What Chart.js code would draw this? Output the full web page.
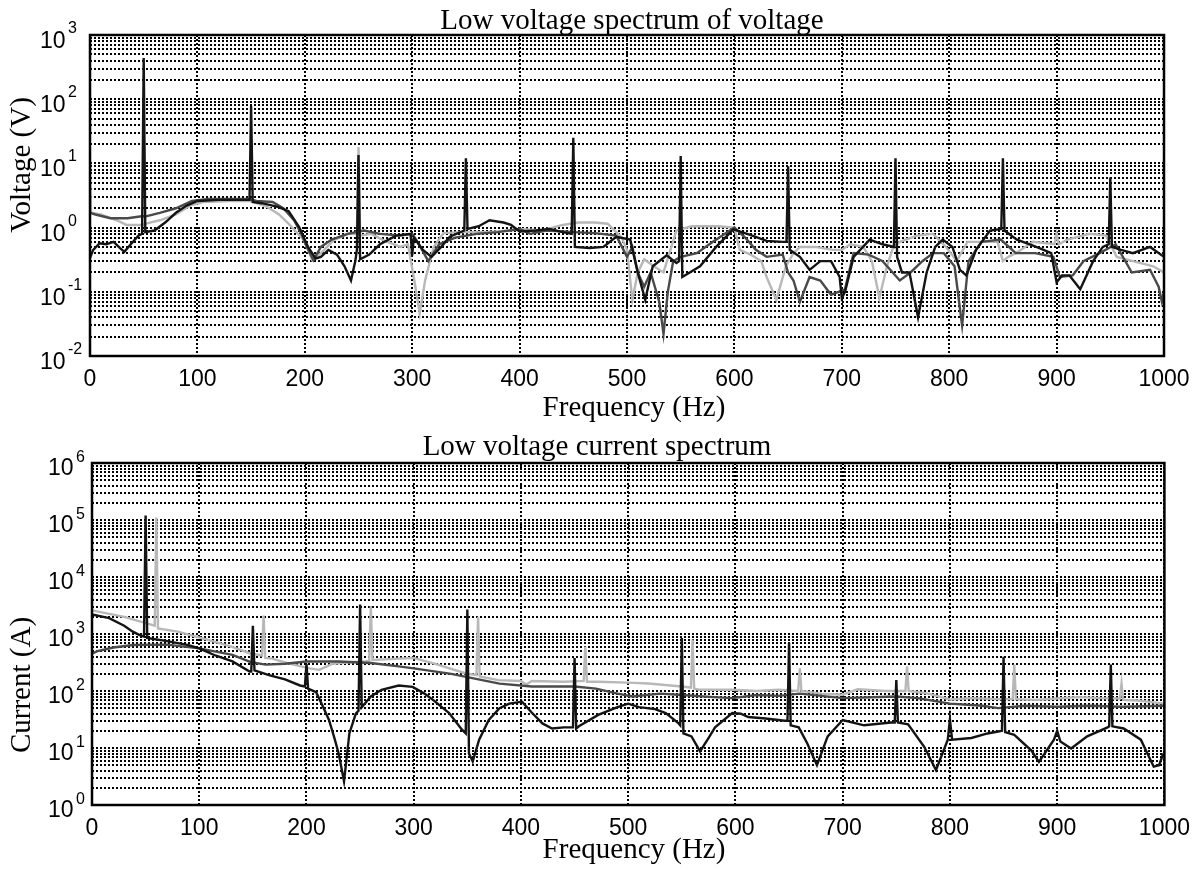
<!DOCTYPE html>
<html><head><meta charset="utf-8">
<script src="https://cdn.jsdelivr.net/npm/chart.js"></script>
<style>
html,body{margin:0;padding:0;background:#fff;}
#wrap{position:relative;width:1200px;height:870px;background:#fff;}
canvas{position:absolute;left:0;}
</style></head><body>
<div id="wrap">
<canvas id="c1" width="1200" height="435" style="top:0;width:1200px;height:435px"></canvas>
<canvas id="c2" width="1200" height="435" style="top:435px;width:1200px;height:435px"></canvas>
</div>
<script>
// ---------- Tick labels ----------
const xTickStep = 100;
const topExps = [-2, -1, 0, 1, 2, 3];
const botExps = [0, 1, 2, 3, 4, 5, 6];

// ---------- Top chart: voltage spectrum ----------
const vBlackF = [0,3,9,15,22,28,32,38,45,48.5,50,51.5,60,70,80,90,100,120,140,148.5,150,151.5,160,175,185,195,203,210,215,222,230,237,243,247,248.5,250,251.5,260,270,285,298.5,300,301.5,310,318,327,335,348.5,350,351.5,362,372,385,392,400,415,428,440,448.5,450,451.5,465,478,490,503,510,517,524,537,546,548.5,550,551.5,568,583,599,614,630,645,648.5,650,651.5,661,670,680,690,698,700,703,711,726,738,748.5,750,751.5,756,763,771,779,787,794,803,810,816,825,838,848.5,850,851.5,863,875,884,895,900,905,912,922,934,943,948.5,950,951.5,960,971,987,1000];
const vBlack  = [0.34,0.45,0.57,0.55,0.6,0.48,0.42,0.55,0.75,0.8,440,0.85,0.9,1.2,1.7,2.2,2.6,2.7,2.7,2.7,78,2.5,2.4,2.1,1.8,1.0,0.5,0.33,0.35,0.45,0.38,0.25,0.15,0.3,0.45,13.5,0.32,0.38,0.55,0.75,0.8,0.37,0.7,0.45,0.35,0.5,0.72,0.9,12,0.95,1.05,1.3,1.2,1.1,0.87,0.9,0.95,0.85,0.8,25,0.5,0.48,0.5,0.72,0.65,0.2,0.075,0.25,0.37,0.28,0.3,13,0.17,0.25,0.5,0.94,0.78,0.62,0.6,0.6,9,0.45,0.35,0.22,0.3,0.3,0.17,0.08,0.1,0.35,0.65,0.55,0.5,12,0.35,0.2,0.2,0.04,0.2,0.5,0.65,0.5,0.22,0.18,0.45,0.9,0.95,12,0.9,0.65,0.55,0.48,0.4,0.14,0.18,0.18,0.11,0.3,0.5,0.55,6,0.5,0.45,0.4,0.5,0.35];

const vDarkF = [0,5,19,35,48,52,65,80,95,110,130,148,155,170,180,190,196,202,208,215,225,240,255,270,289,300,305,315,325,340,360,380,400,410,425,450,470,490,500,505,510,516,522,530,534,538,543,550,565,580,600,610,620,630,645,650,655,661,670,680,690,697,703,711,725,738,754,764,775,785,795,805,812,818,830,848,862,880,897,903,915,925,940,955,970,987,995,998,1000];
const vDark  = [1.7,1.6,1.4,1.4,1.5,1.5,1.7,2.0,2.6,2.8,2.8,2.8,2.6,2.5,2.0,1.3,0.85,0.5,0.31,0.5,0.65,0.8,0.9,0.8,0.75,0.8,0.6,0.3,0.55,0.7,0.8,0.85,0.95,0.8,0.9,0.85,0.82,0.75,0.35,0.5,0.2,0.12,0.2,0.07,0.022,0.1,0.3,0.35,0.4,0.6,1.0,0.7,0.45,0.35,0.38,0.2,0.15,0.07,0.17,0.15,0.09,0.1,0.11,0.4,0.38,0.3,0.15,0.2,0.3,0.4,0.4,0.25,0.03,0.3,0.6,0.65,0.4,0.4,0.35,0.17,0.18,0.3,0.4,0.55,0.2,0.22,0.12,0.07,0.1];

const vLightF = [0,1,10,25,34,49,52,65,80,93,105,130,148,155,165,176,186,199,207,215,227,240,248.5,250,251.5,262,273,289,296,302,307,312,320,329,345,370,390,400,420,440,455,470,482,495,500,505,510,516,525,534,546,560,585,600,605,615,625,630,639,648,655,661,675,692,700,708,720,728,735,742,748,754,770,785,797,807,817,835,845,850,855,862,878,898,900,902,910,931,946,956,971,990,1000];
const vLight  = [5,1.7,1.6,1.3,1.1,1.1,1.15,1.3,1.6,2.2,2.5,2.6,2.6,2.4,2.1,1.6,1.1,0.64,0.31,0.4,0.64,0.8,0.8,18,0.75,0.8,0.64,0.5,0.55,0.15,0.046,0.15,0.5,0.82,0.85,0.85,0.9,0.95,0.9,1.1,1.2,1.2,1.15,0.7,0.45,0.075,0.2,0.32,0.25,0.2,0.9,1.05,1.05,1.0,0.45,0.38,0.3,0.17,0.075,0.25,0.4,0.5,0.5,0.45,0.45,0.55,0.5,0.3,0.08,0.25,0.5,0.6,0.75,0.8,0.5,0.3,0.6,0.6,0.6,0.3,0.35,0.4,0.6,0.55,0.8,0.55,0.65,0.8,0.75,0.35,0.3,0.25,0.2];

// ---------- Bottom chart: current spectrum ----------
const iBlackF = [0,16,30,38,45,48.5,50,51.5,70,90,100,115,131,147,148.5,150,151.5,165,180,194,198.5,200,201.5,209,215,221,226,230,235,240,246,248.5,250,251.5,260,270,286,299,310,318,333,345,348.5,350,351.5,355,361,370,380,389,401,410,420,429,440,448.5,450,451.5,454,472,490,500,510,525,535,547,548.5,550,551.5,559,567,575,581,597,605,612,628,646,648.5,650,651.5,659,667,676,686,700,720,745,748.5,750,751.5,761,776,787,798,800,802,820,835,845,848.5,850,851.5,860,876,883,897,900,903,913,928,947,948.5,950,951.5,962,978,990,995,999];
const iBlack  = [2200,1900,1400,1100,950,900,120000,850,750,640,560,420,330,220,220,1400,230,190,160,125,120,300,110,95,55,31,15,8,2.6,18,40,45,3300,52,80,105,125,118,90,70,41,21,18,2700,8,5.8,14,31,50,60,65,42,27,22,23,23,380,22,24,38,52,60,52,48,41,27,25,850,18,16,8.7,15,23,41,40,35,33,30,30,700,25,23,12,5,16,31,25,28,28,155,28,26,10.5,4.1,14,32,14,15,18,19.5,20,400,19,17,9,5.7,14,20,13,9.8,16,23,24,290,24,22,14,4.7,5,8];

const iDarkF = [0,5,20,38,70,100,131,148,162,180,200,230,260,286,300,335,380,410,450,470,490,504,530,550,580,597,620,640,660,700,750,770,800,830,845,870,900,930,960,1000];
const iDark  = [450,500,580,640,650,560,430,320,290,300,330,330,310,270,250,200,135,120,120,110,90,80,90,85,78,75,85,82,90,75,80,75,60,55,50,55,53,55,53,55];

const iLightF = [0,30,58.5,60,61.5,80,109,130,147,158.5,160,161.5,168,185,203,212,224,240,255,258.5,260,261.5,286,300,320,348,358.5,360,361.5,379,400,405,410,440,458.5,460,461.5,472,500,519,550,558.5,560,561.5,566,597,620,640,658.5,660,661.5,680,700,714,740,758.5,760,761.5,780,800,820,845,858.5,860,861.5,880,900,920,940,958.5,960,961.5,975,1000,1010];
const iLight  = [2600,2000,1400,110000,1250,1100,780,600,460,420,2100,380,370,300,250,235,300,320,330,340,3100,350,370,380,300,205,190,2000,180,155,150,130,150,145,150,600,145,145,140,135,120,115,800,110,105,105,100,105,100,250,100,90,86,107,100,100,270,100,90,71,75,72,72,290,72,70,74,78,75,74,135,70,68,60,72];

const COL_BLACK = '#141414', COL_DARK = '#4a4a4a', COL_LIGHT = '#b8b8b8';

function pts(f, v) { return f.map((x, i) => ({ x: x, y: v[i] })); }
function logGrid(exps) {
  const lo = exps[0], hi = exps[exps.length - 1], t = [];
  for (let e = lo; e < hi; e++) for (let m = 1; m < 10; m++) t.push(+(m * Math.pow(10, e)).toPrecision(6));
  t.push(Math.pow(10, hi));
  return t;
}

const annot = {
  id: 'annot',
  afterDraw(chart, args, o) {
    const ctx = chart.ctx, ys = chart.scales.y, a = chart.chartArea;
    ctx.save();
    ctx.setLineDash([]);
    ctx.strokeStyle = '#000'; ctx.lineWidth = 2.5;
    ctx.strokeRect(a.left, a.top, a.right - a.left, a.bottom - a.top);
    ctx.fillStyle = '#000';
    ctx.textAlign = 'left'; ctx.textBaseline = 'alphabetic';
    o.exps.forEach(e => {
      const y = ys.getPixelForValue(Math.pow(10, e));
      ctx.font = '23px "Liberation Sans", Arial, sans-serif';
      ctx.fillText('10', o.labX, y + o.base);
      ctx.font = '16px "Liberation Sans", Arial, sans-serif';
      ctx.fillText(String(e), o.labX + 28, y + o.supBase);
    });
    ctx.font = '29px "Liberation Serif", "Times New Roman", serif';
    ctx.textAlign = 'center';
    ctx.fillText(o.title, o.titleX, o.titleY);
    ctx.textBaseline = 'middle';
    ctx.fillText(o.xTitle, o.xTitleX, o.xTitleY);
    ctx.translate(o.yTitleX, o.yTitleY);
    ctx.rotate(-Math.PI / 2);
    ctx.fillText(o.yTitle, 0, 0);
    ctx.restore();
  }
};

function build(id, sets, exps, L, ann) {
  const gridOpts = { color: '#000', lineWidth: 2, drawTicks: false };
  return new Chart(document.getElementById(id), {
    type: 'line',
    data: {
      datasets: sets.map(s => ({
        data: pts(s.f, s.v), borderColor: s.c, borderWidth: 2.4, pointRadius: 0,
        tension: 0, fill: false, clip: s.noclip ? false : undefined
      }))
    },
    options: {
      responsive: false, animation: false, devicePixelRatio: 1, events: [],
      layout: { padding: { top: L.top, right: L.right, left: 0, bottom: 0 } },
      plugins: { legend: { display: false }, tooltip: { enabled: false }, title: { display: false }, annot: ann },
      scales: {
        x: {
          type: 'linear', min: 0, max: 1000,
          ticks: { stepSize: xTickStep, autoSkip: false, maxRotation: 0, color: '#000', padding: 10,
                   callback: v => String(v),
                   font: { family: '"Liberation Sans", Arial, sans-serif', size: 23 } },
          grid: gridOpts, border: { display: false, dash: [2, 2] },
          afterFit(s) { s.height = L.xh; }
        },
        y: {
          type: 'logarithmic', min: Math.pow(10, exps[0]), max: Math.pow(10, exps[exps.length - 1]),
          ticks: { display: false },
          afterBuildTicks(s) { s.ticks = logGrid(exps).map(v => ({ value: v })); },
          grid: gridOpts, border: { display: false, dash: [2, 2] },
          afterFit(s) { s.width = L.left; }
        }
      }
    },
    plugins: [annot]
  });
}

build('c1', [
  { f: vBlackF, v: vBlack, c: COL_BLACK },
  { f: vDarkF, v: vDark, c: COL_DARK },
  { f: vLightF, v: vLight, c: COL_LIGHT }
], topExps, { top: 35, right: 36, left: 90, xh: 79 }, {
  exps: topExps, labX: 40, base: 13, supBase: -2,
  title: 'Low voltage spectrum of voltage', titleX: 632, titleY: 29,
  xTitle: 'Frequency (Hz)', xTitleX: 634, xTitleY: 408,
  yTitle: 'Voltage (V)', yTitleX: 22, yTitleY: 165
});

build('c2', [
  { f: iBlackF, v: iBlack, c: COL_BLACK },
  { f: iDarkF, v: iDark, c: COL_DARK },
  { f: iLightF, v: iLight, c: COL_LIGHT, noclip: true }
], botExps, { top: 28, right: 33, left: 92, xh: 65 }, {
  exps: botExps, labX: 48, base: 12, supBase: -1,
  title: 'Low voltage current spectrum', titleX: 597, titleY: 20,
  xTitle: 'Frequency (Hz)', xTitleX: 634, xTitleY: 415,
  yTitle: 'Current (A)', yTitleX: 22, yTitleY: 250
});
</script>
</body></html>
